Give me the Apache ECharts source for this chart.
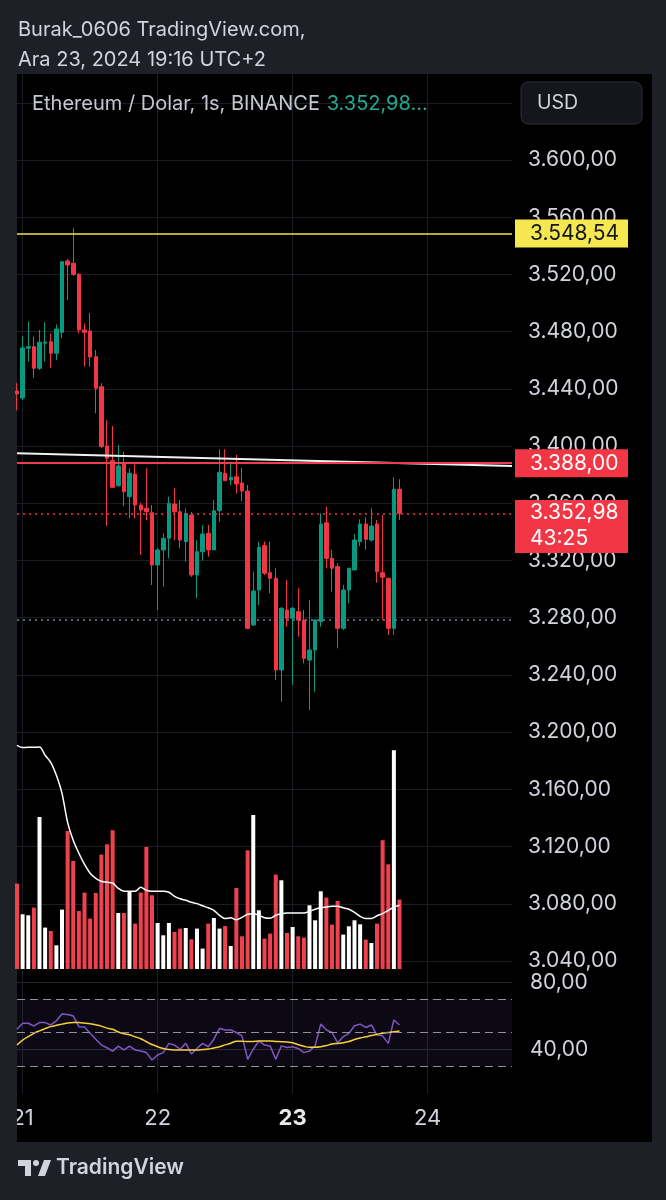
<!DOCTYPE html>
<html><head><meta charset="utf-8">
<script src="https://cdn.jsdelivr.net/npm/echarts@6/dist/echarts.min.js"></script>
<style>html,body{margin:0;padding:0;background:#1e2028;}#c{width:666px;height:1200px;}</style>
</head><body><div id="c"></div>
<script>
// ---- data (hourly candles, ETH/USD, index -1 = 20 Ara 23:00, 0 = 21 Ara 00:00) ----
const open = [3438.5,3433.6,3468.4,3469.5,3454.4,3471.9,3473.0,3464.9,3479.5,3529.4,3527.8,3520.1,3481.2,3480.5,3462.5,3441.5,3400.1,3389.8,3372.3,3388.0,3364.6,3380.5,3358.8,3356.5,3353.4,3316.9,3327.4,3335.5,3359.5,3354.1,3333.2,3351.8,3309.9,3326.2,3339.0,3327.4,3354.8,3381.0,3376.3,3378.6,3374.2,3368.6,3274.9,3299.4,3330.4,3311.5,3307.6,3243.5,3285.4,3279.6,3284.2,3278.4,3250.4,3257.4,3277.2,3346.4,3321.5,3315.7,3272.6,3299.4,3313.4,3333.2,3345.5,3334.3,3345.5,3311.5,3307.6,3272.6,3369.8];
const close = [3436.4,3468.6,3469.5,3454.4,3472.6,3472.8,3464.9,3481.9,3528.9,3526.6,3520.1,3481.2,3479.5,3462.3,3440.4,3399.6,3391.5,3371.2,3386.1,3368.1,3381.0,3358.8,3355.3,3354.1,3316.9,3327.4,3335.5,3360.0,3354.1,3334.3,3353.0,3309.9,3326.2,3338.5,3327.4,3354.8,3381.7,3375.8,3378.2,3373.5,3368.6,3272.6,3298.7,3329.2,3311.1,3307.6,3243.5,3286.6,3279.6,3286.6,3278.4,3251.6,3257.4,3278.4,3345.5,3321.5,3314.6,3272.6,3299.4,3314.6,3334.3,3345.5,3334.8,3344.1,3312.2,3308.3,3272.6,3369.8,3352.98];
const low = [3425.0,3432.2,3459.0,3447.8,3453.2,3459.0,3454.8,3460.2,3475.4,3502.1,3518.9,3478.8,3455.5,3455.5,3422.9,3398.7,3344.1,3370.7,3371.6,3358.1,3349.5,3349.5,3323.9,3348.3,3302.9,3285.4,3301.7,3321.5,3334.3,3328.5,3319.2,3308.5,3293.6,3319.9,3322.7,3327.4,3347.1,3375.6,3372.8,3367.0,3361.6,3272.0,3274.2,3288.9,3309.9,3297.1,3236.5,3221.3,3273.7,3233.0,3266.7,3248.1,3215.5,3228.3,3273.7,3314.6,3298.2,3258.6,3271.4,3290.1,3313.4,3330.1,3327.8,3333.2,3304.5,3278.4,3267.9,3267.9,3348.3];
const high = [3444.1,3477.0,3487.0,3476.5,3481.2,3486.7,3478.8,3485.1,3529.4,3530.8,3552.3,3520.8,3485.8,3493.0,3467.2,3444.0,3418.2,3414.0,3400.8,3396.1,3384.5,3387.3,3360.4,3384.5,3358.8,3328.8,3339.0,3364.6,3370.5,3362.3,3356.5,3353.9,3334.3,3344.8,3344.8,3362.3,3397.8,3397.8,3388.0,3393.8,3384.7,3372.8,3312.2,3333.2,3333.2,3333.2,3314.6,3287.5,3306.4,3287.5,3300.6,3285.4,3292.4,3279.0,3353.0,3357.6,3327.4,3318.1,3302.9,3314.6,3338.5,3348.8,3350.2,3356.5,3348.3,3351.8,3307.6,3378.2,3376.8];
const volume = [85.4,54.7,53.7,61.4,152.0,41.4,38.0,23.7,59.4,138.0,108.0,58.0,76.4,50.4,76.0,114.4,124.7,138.7,56.0,56.0,77.0,45.4,76.4,122.0,73.7,46.0,33.7,46.0,37.0,40.4,41.0,29.7,40.4,20.4,45.4,51.0,40.4,43.0,23.0,81.0,32.7,118.7,154.0,58.7,30.4,35.4,94.4,88.7,36.0,42.0,32.7,31.4,63.7,48.7,77.7,71.4,44.4,68.0,34.4,42.7,48.7,44.7,29.4,26.0,45.4,128.7,104.7,218.7,69.4];
const volumeMA = [223.7,221.4,221.7,221.7,222.0,213.7,206.7,193.7,175.7,146.7,128.7,115.7,104.7,95.7,90.7,87.7,86.7,86.0,80.7,77.7,77.7,77.7,81.7,78.7,77.7,77.7,77.7,76.7,72.7,70.2,68.7,66.7,65.4,63.2,61.2,58.7,53.7,50.4,51.2,49.2,51.7,54.7,55.2,53.7,51.2,50.7,53.7,55.2,56.0,56.0,56.0,56.0,57.7,59.7,61.2,62.0,62.7,62.7,61.2,59.7,56.7,52.7,50.4,50.4,53.2,55.4,58.7,61.7,63.7];
const rsi = [51.9,55.5,55.5,53.9,55.9,55.9,54.5,57.0,61.0,60.8,59.9,53.5,53.3,49.5,46.0,42.5,40.9,38.9,41.9,39.6,41.9,39.6,38.9,38.0,33.6,36.6,38.0,43.5,42.5,40.0,43.5,37.2,40.5,43.5,41.5,46.0,52.5,51.5,51.5,50.0,48.0,34.0,40.0,45.0,42.5,42.0,34.0,42.0,41.0,41.5,40.5,38.0,39.0,42.0,55.0,51.5,50.0,43.9,47.5,49.5,54.0,55.0,53.0,54.5,48.5,48.0,43.5,57.5,54.5];
const rsiMA = [42.5,45.5,47.5,49.5,51.0,52.3,53.5,54.3,55.0,55.7,55.9,55.9,55.6,55.2,54.6,53.8,52.6,51.9,50.3,49.2,48.7,47.4,46.3,44.5,42.8,41.5,40.5,39.8,39.6,39.6,39.6,39.6,39.6,39.8,40.1,40.8,41.5,42.6,43.6,44.8,44.8,44.6,44.7,44.9,44.9,44.9,44.7,44.5,44.3,43.9,42.7,41.8,41.2,41.2,41.5,42.2,43.1,43.5,43.9,44.6,45.8,46.7,47.4,48.2,48.9,49.6,50.0,50.4,50.9];

const dayTicks = [0, 24, 48, 72];
const dayLabels = ['21', '22', '23', '24'];
const priceTicks = [3040,3080,3120,3160,3200,3240,3280,3320,3360,3400,3440,3480,3520,3560,3600,3640];
const rsiTicks = [40, 80];
const rsiLevels = [70, 50, 30];
const levelYellow = 3548.54;
const levelRed = 3388.00;
const lastPrice = 3352.98;
const grayLevel = 3278.4;
const trendLine = [[-1, 3394.9], [87, 3386.0]];
const countdown = '43:25';

// ---- rendering ----
const hours = open.map((_, i) => i - 1);
function trNum(v) {
  const s = Number(v).toFixed(2).split('.');
  return s[0].replace(/\B(?=(\d{3})+(?!\d))/g, '.') + ',' + s[1];
}
const FONT = 'Inter, "Noto Sans", sans-serif';
const UP = '#089981', DOWN = '#f23645';
const TXT = '#d1d4dc';
const GRIDC = '#1a1d24';
const BG = '#1e2028';
const AX = 21;

const chart = echarts.init(document.getElementById('c'), null, {renderer: 'canvas'});

function boxPoint(price, text, color, textColor, h, offY, posY) {
  return {
    coord: [87, price], symbol: 'rect', symbolSize: [113, h], symbolOffset: [59.5, offY],
    itemStyle: {color: color},
    label: {show: true, position: [15, posY], align: 'left', verticalAlign: 'top',
      formatter: text, color: textColor, fontSize: AX, lineHeight: 26, fontFamily: FONT}
  };
}

const option = {
  backgroundColor: BG,
  animation: false,
  textStyle: {fontFamily: FONT},
  grid: [
    {left: 17, right: 154, top: 74, height: 909},
    {left: 17, right: 154, top: 740, height: 229},
    {left: 17, right: 154, top: 982.25, height: 111}
  ],
  xAxis: [
    {gridIndex: 0, type: 'value', min: -1, max: 87, axisLine: {show: false},
      axisTick: {show: false, customValues: dayTicks}, axisLabel: {show: false, customValues: dayTicks},
      splitLine: {show: true, lineStyle: {color: GRIDC, width: 1}}},
    {gridIndex: 1, type: 'value', min: -1, max: 87, show: false},
    {gridIndex: 2, type: 'value', min: -1, max: 87, axisLine: {show: false},
      axisTick: {show: false, customValues: dayTicks},
      axisLabel: {customValues: dayTicks, margin: 14, color: TXT, fontSize: 22, fontFamily: FONT,
        formatter: function (v) {
          const i = dayTicks.indexOf(v);
          const t = i >= 0 ? dayLabels[i] : '';
          return t === '23' ? '{b|' + t + '}' : t;
        },
        rich: {b: {fontWeight: 'bold', fontSize: 22, color: '#e8e9ec', fontFamily: FONT}}},
      splitLine: {show: true, lineStyle: {color: GRIDC, width: 1}}}
  ],
  yAxis: [
    {gridIndex: 0, type: 'value', position: 'right', min: 3024.64, max: 3660.12,
      axisLine: {show: false}, axisTick: {show: false, customValues: priceTicks},
      axisLabel: {customValues: priceTicks, formatter: trNum, margin: 16, color: TXT, fontSize: AX, align: 'left', fontFamily: FONT},
      splitLine: {show: true, lineStyle: {color: GRIDC, width: 1}}},
    {gridIndex: 1, type: 'value', min: 0, max: 229, show: false},
    {gridIndex: 2, type: 'value', position: 'right', min: 13.73, max: 80,
      axisLine: {show: false}, axisTick: {show: false, customValues: rsiTicks},
      axisLabel: {customValues: rsiTicks, formatter: trNum, margin: 18, color: TXT, fontSize: AX, align: 'left', fontFamily: FONT},
      splitLine: {show: true, lineStyle: {color: '#22252c', width: 1}}}
  ],
  series: [
    {
      type: 'candlestick', xAxisIndex: 0, yAxisIndex: 0, barWidth: 4,
      data: hours.map((h, i) => [h, open[i], close[i], low[i], high[i]]),
      itemStyle: {color: UP, color0: DOWN, borderColor: UP, borderColor0: DOWN, borderWidth: 1},
      markLine: {
        symbol: 'none', silent: true, label: {show: false},
        data: [
          {yAxis: levelYellow, lineStyle: {color: '#f3e24c', width: 1.5, type: 'solid'}},
          {yAxis: levelRed, lineStyle: {color: '#e8404c', width: 2, type: 'solid'}},
          {yAxis: lastPrice, lineStyle: {color: '#f23645', width: 1.5, type: [2, 4]}},
          {yAxis: grayLevel, lineStyle: {color: '#80838c', width: 1.5, type: [2, 4]}}
        ]
      }
    },
    {
      type: 'line', xAxisIndex: 0, yAxisIndex: 0, data: trendLine, symbol: 'none', clip: false, z: 3,
      lineStyle: {color: '#f2f2f2', width: 2},
      markPoint: {
        silent: true,
        data: [
          boxPoint(levelYellow, trNum(levelYellow), '#f5e74f', '#131722', 28, 0, 1),
          boxPoint(levelRed, trNum(levelRed), '#f23645', '#ffffff', 28, 0, 1),
          boxPoint(lastPrice, trNum(lastPrice) + '\n' + countdown, '#f23645', '#ffffff', 53, 13.2, 0)
        ]
      }
    },
    {
      type: 'bar', xAxisIndex: 1, yAxisIndex: 1, barWidth: 4,
      data: hours.map((h, i) => ({value: [h, volume[i]], itemStyle: {color: close[i] >= open[i] ? '#ffffff' : '#f0414f'}}))
    },
    {
      type: 'line', xAxisIndex: 1, yAxisIndex: 1, symbol: 'none', smooth: 0.3,
      data: hours.map((h, i) => [h, volumeMA[i]]), lineStyle: {color: '#ffffff', width: 1.5}
    },
    {
      type: 'line', xAxisIndex: 2, yAxisIndex: 2, symbol: 'none',
      data: hours.map((h, i) => [h, rsi[i]]), lineStyle: {color: '#7e57c2', width: 1.5},
      markArea: {silent: true, itemStyle: {color: 'rgba(126,87,194,0.1)'}, data: [[{yAxis: rsiLevels[0]}, {yAxis: rsiLevels[2]}]]},
      markLine: {symbol: 'none', silent: true, label: {show: false},
        lineStyle: {color: '#8f929b', type: [8, 5], width: 1.2},
        data: rsiLevels.map(v => ({yAxis: v}))}
    },
    {
      type: 'line', xAxisIndex: 2, yAxisIndex: 2, symbol: 'none', smooth: 0.4,
      data: hours.map((h, i) => [h, rsiMA[i]]), lineStyle: {color: '#f7cf3b', width: 1.5}
    }
  ],
  graphic: [
    {type: 'rect', z: -100, shape: {x: 17, y: 74, width: 635, height: 1068}, style: {fill: '#000000'}},
    {type: 'rect', z: 100, shape: {x: 0, y: 1095, width: 17, height: 47}, style: {fill: BG}},
    {type: 'text', z: 100, x: 18, y: 30, style: {text: 'Burak_0606 TradingView.com,', fill: TXT, font: '20px ' + FONT, verticalAlign: 'middle'}},
    {type: 'text', z: 100, x: 18, y: 60, style: {text: 'Ara 23, 2024 19:16 UTC+2', fill: TXT, font: '20px ' + FONT, verticalAlign: 'middle'}},
    {type: 'text', z: 100, x: 32, y: 104, style: {
      text: '{a|Ethereum / Dolar, 1s, BINANCE}  {g|' + trNum(lastPrice) + '...}',
      rich: {a: {fill: '#c4c7cf', font: '20px ' + FONT}, g: {fill: '#22ab94', font: '20px ' + FONT}},
      verticalAlign: 'middle'}},
    {type: 'rect', z: 100, shape: {x: 521, y: 82, width: 121, height: 42, r: 7}, style: {fill: '#14161c', stroke: '#2a2e39', lineWidth: 1}},
    {type: 'text', z: 101, x: 537, y: 103, style: {text: 'USD', fill: TXT, font: '19.5px ' + FONT, verticalAlign: 'middle'}},
    {type: 'polygon', z: 100, shape: {points: [[18, 1160], [31, 1160], [31, 1176], [25, 1176], [25, 1166], [18, 1166]]}, style: {fill: TXT}},
    {type: 'circle', z: 100, shape: {cx: 36, cy: 1163, r: 3}, style: {fill: TXT}},
    {type: 'polygon', z: 100, shape: {points: [[38, 1176], [44, 1160], [51, 1160], [45, 1176]]}, style: {fill: TXT}},
    {type: 'text', z: 100, x: 56, y: 1168, style: {text: 'TradingView', fill: TXT, font: '600 21px ' + FONT, verticalAlign: 'middle'}}
  ]
};
chart.setOption(option);
</script>
</body></html>
